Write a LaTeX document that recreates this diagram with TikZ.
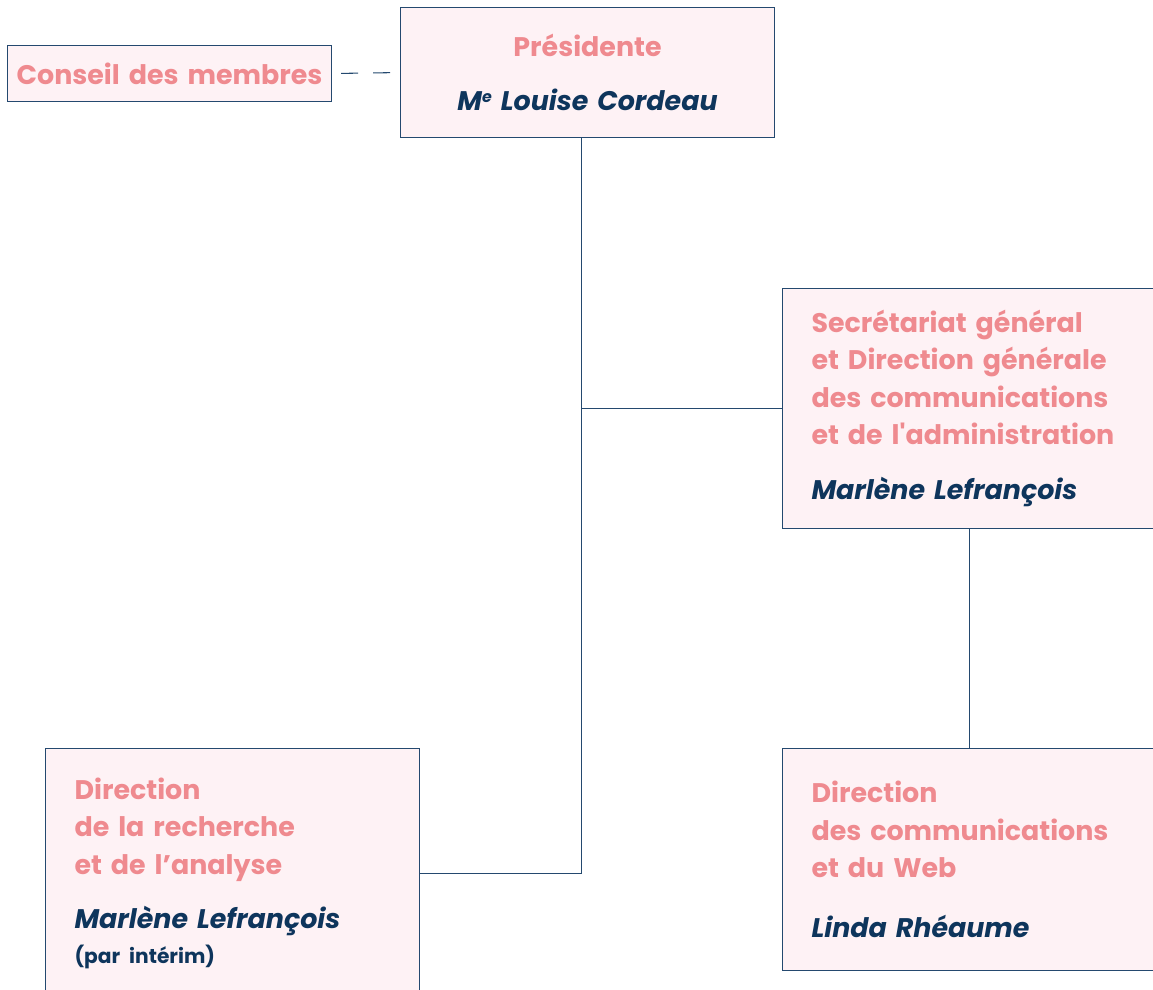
\documentclass[tikz,border=0pt]{standalone}
\usepackage{fontspec}
\setmainfont{Poppins}[Ligatures=TeXOff]
\usetikzlibrary{positioning}
\definecolor{orgPink}{HTML}{EF8A8F}
\definecolor{orgNavy}{HTML}{0E355C}
\definecolor{orgFill}{HTML}{FEF2F5}
\definecolor{orgLine}{HTML}{24496F}

\newcommand{\unitname}[1]{{\color{orgPink}\bfseries #1}}
\newcommand{\headname}[1]{{\color{orgNavy}\bfseries\itshape #1}}

\begin{document}
\begin{tikzpicture}[
    unit/.style={draw=orgLine, line width=0.6pt, fill=orgFill, anchor=north west, minimum width=7.48cm, text width=6.32cm, inner xsep=0.58cm, align=left, font=\fontsize{15.3}{21.3}\selectfont},
    top/.style={unit, align=center, text width=6.8cm, inner xsep=0.3cm},
    link/.style={draw=orgLine, line width=0.6pt},
    dashlink/.style={link, dash pattern=on 0.34cm off 0.30cm, dash phase=0.46cm}
]
    \useasboundingbox (0,0) rectangle (23.06,-19.8);

    % Top level
    \node[top, minimum height=2.60cm] (pres) at (8.00,-0.14) {\unitname{Présidente}\\[0.32cm]\headname{M\raisebox{0.55ex}{\fontsize{9}{9}\selectfont e} Louise Cordeau}};
    \node[unit, minimum width=6.48cm, minimum height=1.12cm, text width=6.3cm, inner xsep=0.09cm, inner ysep=0pt, align=center] (conseil) at (0.14,-0.90) {\unitname{Conseil des membres}};

    % Directions
    \node[unit, minimum height=4.80cm] (secgen) at (15.64,-5.76) {\unitname{Secrétariat général\\et Direction générale\\des communications\\et de l'administration}\\[0.36cm]\headname{Marlène Lefrançois}};
    \node[unit, minimum height=5.00cm] (recherche) at (0.90,-14.96) {\unitname{Direction\\de la recherche\\et de l’analyse}\\[0.34cm]\headname{Marlène Lefrançois}\\[-0.05cm]{\color{orgNavy}\bfseries\fontsize{11.5}{16}\selectfont (par intérim)}};
    \node[unit, minimum height=4.44cm] (comweb) at (15.64,-14.96) {\unitname{Direction\\des communications\\et du Web}\\[0.45cm]\headname{Linda Rhéaume}};

    % Links
    \coordinate (trunk) at ([xshift=-0.12cm]pres.south);
    \draw[dashlink] (conseil.east) -- (pres.west);
    \draw[link] (trunk) |- (recherche.east);
    \draw[link] (secgen.west) -- (secgen.west -| trunk);
    \draw[link] (secgen.south) -- (comweb.north);
\end{tikzpicture}
\end{document}
